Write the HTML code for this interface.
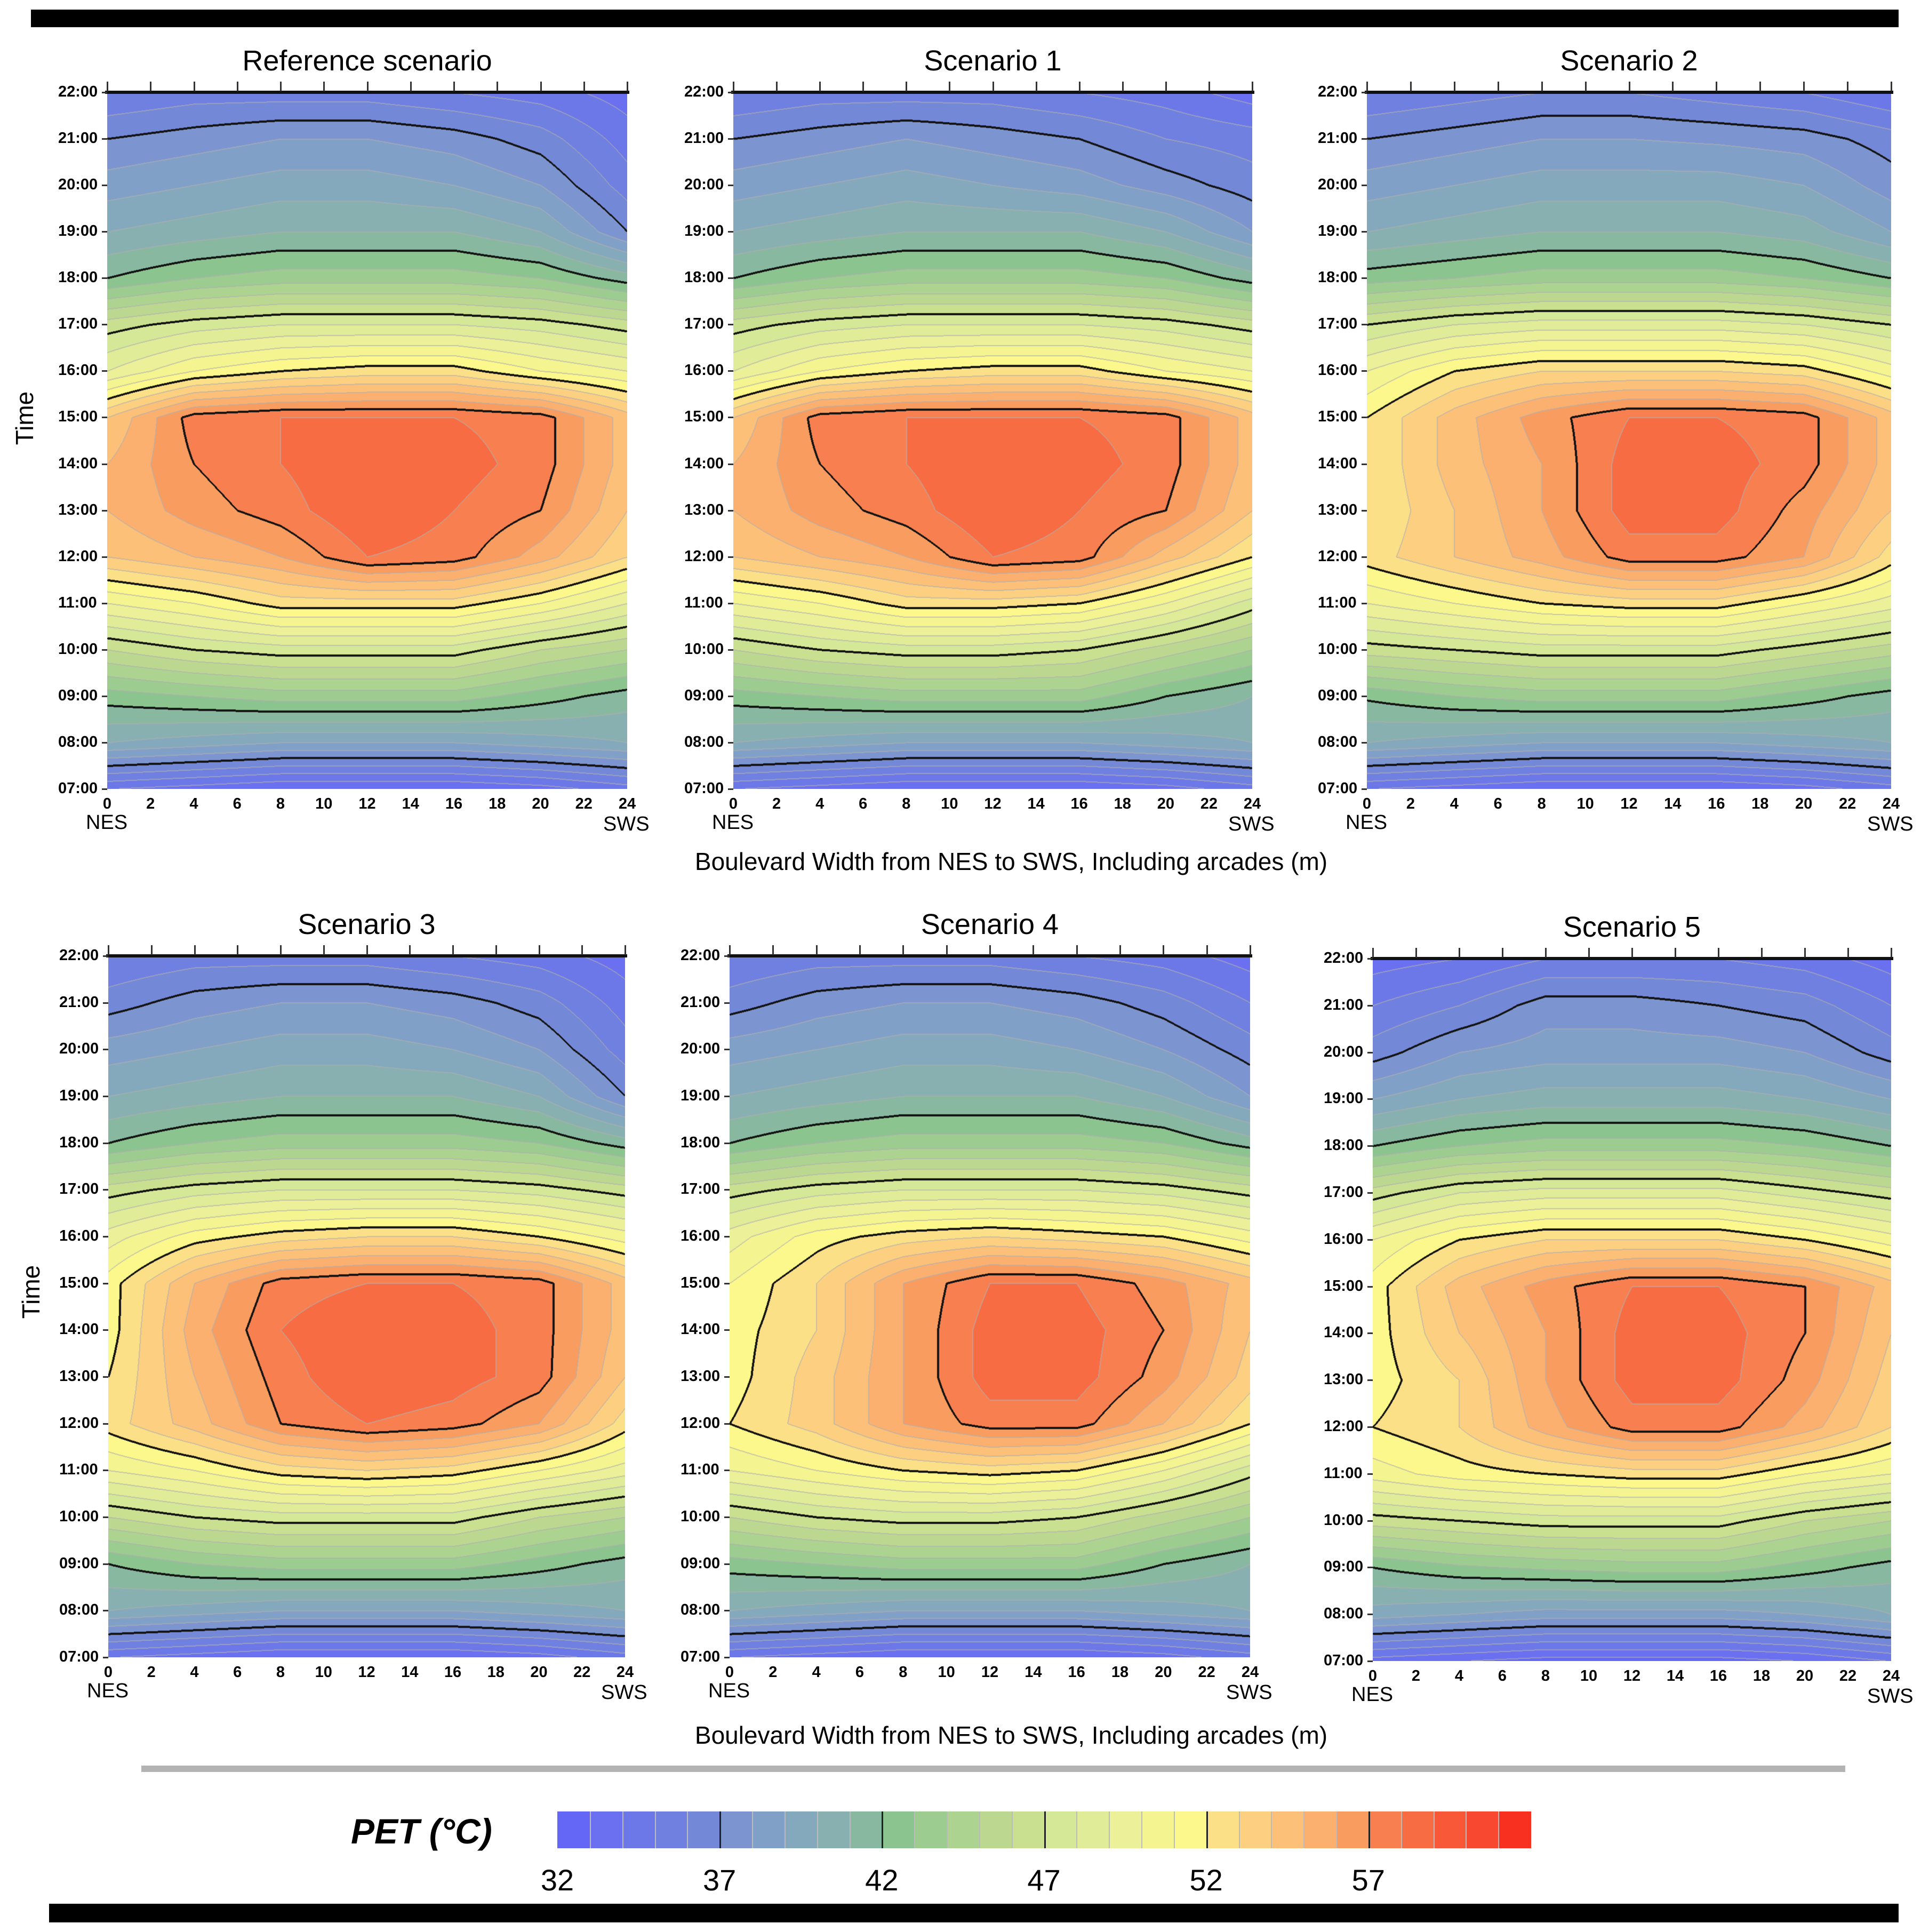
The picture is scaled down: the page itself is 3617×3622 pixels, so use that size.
<!DOCTYPE html>
<html><head><meta charset="utf-8">
<style>
body{margin:0;width:3617px;height:3622px;background:#fff;position:relative;overflow:hidden;font-family:"Liberation Sans",sans-serif;}
.abs{position:absolute;}
.title{position:absolute;font-size:54px;text-align:center;transform:translateX(-50%);white-space:nowrap;top:82px;}
.tl{position:absolute;font-size:29px;font-weight:bold;white-space:nowrap;}
.xt{position:absolute;font-size:29px;font-weight:bold;transform:translateX(-50%);}
.lab{position:absolute;font-size:38px;}
.axt{position:absolute;font-size:46px;white-space:nowrap;transform:translateX(-50%);}
</style></head><body>
<div class="abs" style="left:58px;top:18px;width:3502px;height:33px;background:#000"></div>
<div class="abs" style="left:92px;top:3569px;width:3468px;height:35px;background:#000"></div>
<div class="abs" style="left:265px;top:3310px;width:3195px;height:12px;background:#b3b3b3"></div>
<div class="axt" style="left:1896px;top:1588px">Boulevard Width from NES to SWS, Including arcades (m)</div>
<div class="axt" style="left:1896px;top:3226px">Boulevard Width from NES to SWS, Including arcades (m)</div>
<div class="abs" style="left:46px;top:784px;font-size:46px;transform:translate(-50%,-50%) rotate(-90deg)">Time</div>
<div class="abs" style="left:58px;top:2422px;font-size:46px;transform:translate(-50%,-50%) rotate(-90deg)">Time</div>
<div class="abs" style="left:658px;top:3395px;font-size:66px;font-weight:bold;font-style:italic">PET (°C)</div>
<div id="root"></div>
<script>
const hours=["07:00","08:00","09:00","10:00","11:00","12:00","13:00","14:00","15:00","16:00","17:00","18:00","19:00","20:00","21:00","22:00"];
const xTicks=[0,2,4,6,8,10,12,14,16,18,20,22,24];
const gridCols=[0,4,8,12,16,20,24];
const titles=["Reference scenario","Scenario 1","Scenario 2","Scenario 3","Scenario 4","Scenario 5"];
const levelColors=["#6466f5","#6a70f0","#6c78e8","#7080e0","#7488d8","#7c94d0","#80a0c8","#84a8bc","#88b0b0","#88b8a0","#8cc490","#9ccc90","#acd490","#bcd890","#c8e090","#d4e898","#e0ec98","#ecf098","#f4f490","#fcf88c","#fce088","#fcd080","#fcc078","#fcb070","#f89c60","#f88050","#f86c44","#f85838","#f84830","#f83020"];
const cbLabels=[32,37,42,47,52,57];
const petRef=[[34,33.5,33,33,33,33.5,34.5],[40,39.5,39,39,39,39.5,40],[42.5,43,43.5,43.5,43.5,42.5,41.5],[46,47,47.5,47.5,47.5,46,45],[50,51,52.5,52.5,52.5,51,49],[54,55,56,58,57.5,55.5,53],[55,56.5,57.5,59,58,57,54],[55,57,58,59,58.5,57.5,54.5],[54,57.5,58,58,58,57.5,54.5],[49,51,52,52.5,52.5,51,50],[46.5,47.5,48,48,48,47.5,46.5],[42,43,43.5,43.5,43.5,43,41.5],[40,40.5,41,41,41,40,37],[38.5,39,39.5,39.5,39,38,35.5],[37,37.5,38,38,37.5,36.5,34.5],[35,35.5,35.5,35.5,35,34.5,33.5]];
const petS1=[[34,33.5,33,33,33,33.5,34.5],[40,39.5,39,39,39,39.5,40],[42.5,43,43.5,43.5,43.5,42,41],[46,47,47.5,47.5,47,45.5,44],[50,51,52.5,52.5,52,50,47.5],[54,55,56,58,57.5,54.5,52],[55,56.5,57.5,59,58,57,54],[55,57,58,59,58.5,57.5,54.5],[54,57.5,58,58,58,57.5,54.5],[49,51,52,52.5,52.5,51,50],[46.5,47.5,48,48,48,47.5,46.5],[42,43,43.5,43.5,43.5,43,41.5],[40,40.5,41,41,41,40,38],[38.5,39,39.5,39,38.5,37.5,36.5],[37,37.5,38,37.5,37,36,35.5],[35,35.5,35.5,35.5,35,34.5,33.5]];
const petS2=[[34,33.5,33,33,33,33.5,34.5],[40,39.5,39,39,39,39.5,40],[42.2,43,43.5,43.5,43.5,42.5,41.5],[46.5,47,47.5,47.5,47.5,46.5,45.5],[50,51,52,52.5,52.5,51,49.5],[52.5,54,55.5,57.5,57.5,56,52.5],[52,54,56,58.5,58.5,56.5,54],[52,54.5,56,58.5,58.5,57.5,54.5],[52,54.5,56.5,58,58,57.5,54.5],[50,52,53,53,53,52.5,50.5],[47,48,48.5,48.5,48.5,48,47],[42.5,43,43.5,43.5,43.5,43,42],[40,40.5,41,41,41,40.5,39],[38.5,39,39.5,39.5,39.5,39,37.5],[37,37.5,38,38,37.8,37.5,36.5],[35,35.5,36,36,35.5,35,34]];
const petS3=[[34,33.5,33,33,33,33.5,34.5],[40,39.5,39,39,39,39.5,40],[42,43,43.5,43.5,43.5,42.5,41.5],[46,47,47.5,47.5,47.5,46,45],[50,51,52.5,53,52.5,51,49.5],[52.5,54.5,57,58,57.5,56,52.5],[52,55,57.5,59,58.5,57.5,54],[51.5,55.5,58,59,58.5,57.5,54.5],[51.5,55,57.5,58,58,57.5,54.5],[49.5,51.5,52.5,53,53,52,50.5],[46.5,47.5,48,48,48,47.5,46.5],[42,43,43.5,43.5,43.5,43,41.5],[40,40.5,41,41,41,40,37],[38.5,39,39.5,39.5,39,38,35.5],[36.5,37.5,38,38,37.5,36.5,34.5],[35,35.5,35.5,35.5,35,34.5,33.5]];
const petS4=[[34,33.5,33,33,33,33.5,34.5],[40,39.5,39,39,39,39.5,40],[42.5,43,43.5,43.5,43.5,42,41],[46,47,47.5,47.5,47,45.5,44],[50,51,52,52.5,52,50,47.5],[52,53.5,56,57.5,57.5,55,52],[51.5,53.5,56,58.5,58.5,56.5,53.5],[51.5,53,56,58.5,58.5,57,54],[51,53,56,58,58,56.5,54.5],[49.5,51.5,52.5,53,52.5,52,50.5],[46.5,47.5,48,48,48,47.5,46.5],[42,43,43.5,43.5,43.5,43,41.5],[40,40.5,41,41,41,40,38],[38.5,39,39.5,39.5,39,38,36.5],[36.5,37.5,38,38,37.5,36.5,35],[35,35.5,35.5,35.5,35,34.5,33.5]];
const petS5=[[33.5,33,32.5,32.5,32.5,33,34],[39.5,39,38.5,38.5,38.5,39,40],[42,42.8,43.2,43.5,43.5,42.5,41.5],[46.5,47,47.5,47.5,47.5,46,45],[50.5,51.5,52,52.5,52.5,51,50],[52,53,55.5,57.5,57.5,55.5,53],[51.5,53,56,58.5,58.5,56.5,53.5],[51.5,54,56,58.5,58.5,57,54],[51.5,54.5,56.5,58,58,57,54.5],[50,52,53,53,53,52,50.5],[46.5,48,48.5,48.5,48.5,47.5,46.5],[42,43,43.5,43.5,43.5,43,42],[39,40,40.5,40.5,40.5,40,39],[36.5,38,38.5,38.5,38.5,38,36.5],[35,36,37.5,37.5,37,36.5,35],[33.5,34,35,35,35,34.5,33.5]];
const panelData=[petRef,petS1,petS2,petS3,petS4,petS5];

const boxes=[[201,173,1176,1479],[1375,173,2348,1479],[2563,173,3546,1479],[203,1792,1172,3107],[1368,1792,2344,3107],[2574,1797,3546,3114]];
const names=["reference-scenario","scenario-1","scenario-2","scenario-3","scenario-4","scenario-5"];
const root=document.getElementById('root');
function hex(c){return [parseInt(c.slice(1,3),16),parseInt(c.slice(3,5),16),parseInt(c.slice(5,7),16)];}
const rgb=levelColors.map(hex);
function valAt(g,xm,hr){
  let ci=0;while(ci<gridCols.length-2&&xm>gridCols[ci+1])ci++;
  const tx=(xm-gridCols[ci])/(gridCols[ci+1]-gridCols[ci]);
  let ri=Math.min(Math.max(Math.floor(hr),0),g.length-2);const ty=hr-ri;
  const a=g[ri][ci]*(1-tx)+g[ri][ci+1]*tx,b=g[ri+1][ci]*(1-tx)+g[ri+1][ci+1]*tx;
  return a*(1-ty)+b*ty;
}
boxes.forEach((bx,p)=>{
  const [x0,y0,x1,y1]=bx,W=x1-x0,H=y1-y0;
  const xs=v=>x0+v/24*W, ys=h=>y1-h/15*H;
  const g=panelData[p];
  const t=document.createElement('div');t.className='title';t.textContent=titles[p];
  t.style.left=((x0+x1)/2)+'px';t.style.top=(y0-90)+'px';
  
  
  root.appendChild(t);
  const cv=document.createElement('canvas');cv.width=W;cv.height=H;
  cv.style.cssText=`position:absolute;left:${x0}px;top:${y0}px;`;
  
  
  root.appendChild(cv);
  const ctx=cv.getContext('2d');const im=ctx.createImageData(W,H);const d=im.data;
  const lv=new Float32Array(W*H);
  for(let y=0;y<H;y++){const hr=(H-y)/H*15;for(let x=0;x<W;x++){lv[y*W+x]=valAt(g,x/W*24,hr);}}
  const mark=new Uint8Array(W*H);
  const lev=v=>Math.floor(v);
  for(let y=0;y<H;y++)for(let x=0;x<W;x++){
    const i=y*W+x,L=lev(lv[i]);
    const nb=[];if(x+1<W)nb.push(i+1);if(y+1<H)nb.push(i+W);
    for(const j of nb){const M=lev(lv[j]);if(M!==L){const hi=Math.max(L,M);const major=hi>=37&&hi<=57&&(hi-32)%5===0;
      if(major){mark[i]=2;mark[j]=2;}else{if(mark[i]<1)mark[i]=1;if(mark[j]<1)mark[j]=1;}}}
  }
  const blk=new Uint8Array(W*H);
  for(let y=1;y<H-1;y++)for(let x=1;x<W-1;x++){const i=y*W+x;if(mark[i]===2){blk[i]=1;blk[i-1]=1;blk[i+1]=1;blk[i-W]=1;blk[i+W]=1;}}
  for(let i=0;i<W*H;i++){
    let k=Math.min(Math.max(lev(lv[i])-32,0),29);let c=rgb[k];let r=c[0],gg=c[1],b=c[2];
    if(blk[i]){r=20;gg=20;b=20;}else if(mark[i]===1){r=r*0.35+175*0.65;gg=gg*0.35+175*0.65;b=b*0.35+175*0.65;}
    d[i*4]=r;d[i*4+1]=gg;d[i*4+2]=b;d[i*4+3]=255;
  }
  ctx.putImageData(im,0,0);
  const ax=document.createElement('div');ax.className='abs';
  ax.style.cssText=`left:${x0-4}px;top:${y0-3}px;width:${W+8}px;height:6px;background:#111`;
  
  
  root.appendChild(ax);
  xTicks.forEach(v=>{
    const tk=document.createElement('div');tk.className='abs';
    tk.style.cssText=`left:${xs(v)-1}px;top:${y0-20}px;width:3px;height:18px;background:#333`;
    
    
    root.appendChild(tk);
    const lb=document.createElement('div');lb.className='xt';lb.textContent=v;
    lb.style.left=xs(v)+'px';lb.style.top=(y1+12)+'px';
    
    
    root.appendChild(lb);
  });
  hours.forEach((h,k)=>{
    const lb=document.createElement('div');lb.className='tl';lb.textContent=h;
    lb.style.left=(x0-92)+'px';lb.style.top=(ys(k)-17)+'px';
    
    
    root.appendChild(lb);
    const tk=document.createElement('div');tk.className='abs';
    tk.style.cssText=`left:${x0-10}px;top:${ys(k)-1}px;width:10px;height:3px;background:#333`;
    
    
    root.appendChild(tk);
  });
  const n=document.createElement('div');n.className='lab';n.textContent='NES';
  n.style.left=(x0-40)+'px';n.style.top=(y1+42)+'px';
  
  
  root.appendChild(n);
  const s=document.createElement('div');s.className='lab';s.textContent='SWS';
  s.style.left=(x1-45)+'px';s.style.top=(y1+45)+'px';
  
  
  root.appendChild(s);
});
const cbX0=1045,cbX1=2870,cbY=3396,cbH=69,cbStep=(cbX1-cbX0)/levelColors.length;
levelColors.forEach((c,k)=>{
  const e=document.createElement('div');e.className='abs';
  const major=k%5===0&&k>0;
  e.style.cssText=`left:${cbX0+k*cbStep}px;top:${cbY}px;width:${cbStep+1}px;height:${cbH}px;background:${c};border-left:${k===0?0:(major?3:2)}px solid ${major?'#222':'#bbb'};box-sizing:border-box`;
  
  
  root.appendChild(e);
});
cbLabels.forEach(v=>{
  const e=document.createElement('div');e.className='abs';e.textContent=v;
  e.style.cssText=`left:${cbX0+(v-32)*cbStep}px;top:3492px;font-size:56px;transform:translateX(-50%)`;
  
  
  root.appendChild(e);
});
</script>
</body></html>
